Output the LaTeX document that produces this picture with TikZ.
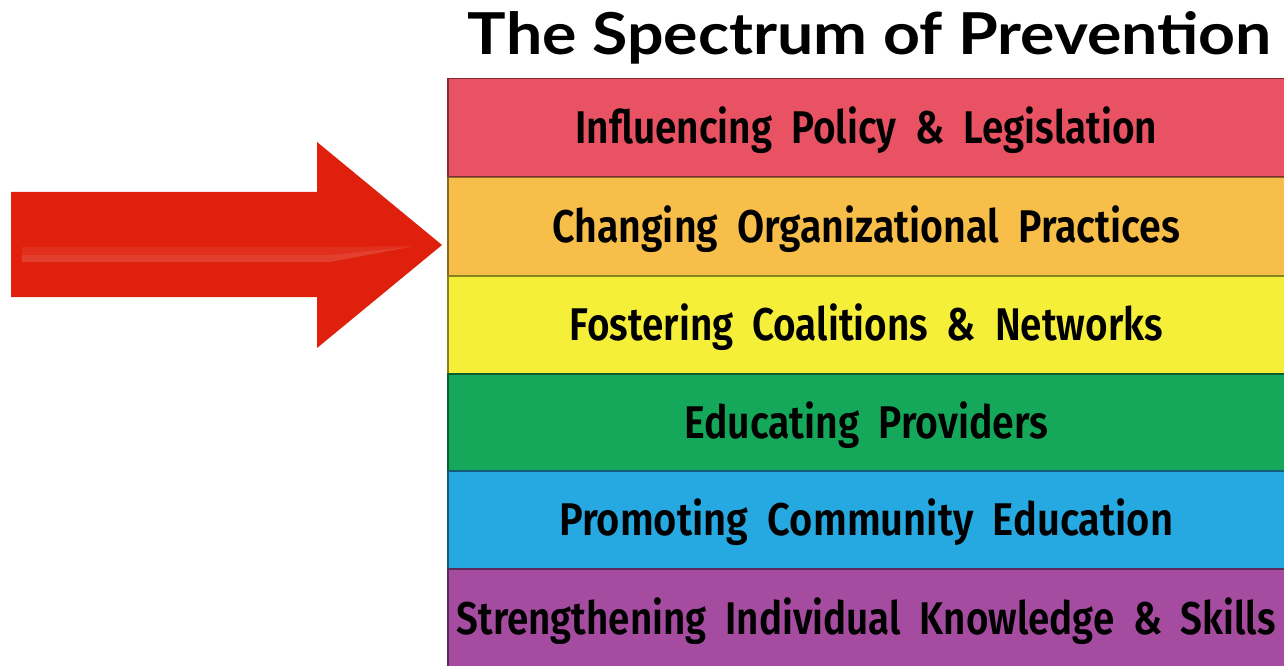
\documentclass[tikz,border=0pt]{standalone}
\usepackage{fontspec}
\usepackage{graphicx}
\setmainfont{Fira Sans}
\newfontfamily\titlefont{Lato}
\newfontfamily\bandfont{Fira Sans SemiBold}
\definecolor{bRed}{RGB}{232,82,98}
\definecolor{bOrange}{RGB}{247,190,74}
\definecolor{bYellow}{RGB}{246,239,58}
\definecolor{bGreen}{RGB}{22,168,90}
\definecolor{bBlue}{RGB}{38,168,224}
\definecolor{bPurple}{RGB}{166,76,160}
\definecolor{arrowRed}{RGB}{222,32,12}
\newcommand\bandtxt[2]{\resizebox{#1bp}{\height}{\bandfont #2}}
\begin{document}
\begin{tikzpicture}[x=1bp,y=-1bp,
  band/.style={draw=#1!55!black, line width=1.5bp, fill=#1,
    minimum width=837bp, minimum height=98bp, inner sep=0pt,
    text height=32bp, text depth=0pt, anchor=north west,
    font=\fontsize{46}{46}\selectfont, text=black},
  titlestyle/.style={anchor=base, inner sep=0pt,
    font=\titlefont\bfseries\fontsize{58}{58}\selectfont}]
\useasboundingbox (0,0) rectangle (1284,666);
\fill[white] (0,0) rectangle (1284,666);

% title
\node[titlestyle] (title) at (870,55) {\resizebox{804bp}{\height}{The Spectrum of Prevention}};

% bands
\node[band=bRed]    (b1) at (447,78)  {\bandtxt{582}{Influencing\ \ Policy\ \ \&\ \ Legislation}};
\node[band=bOrange] (b2) at (447,177) {\bandtxt{628}{Changing\ \ Organizational\ \ Practices}};
\node[band=bYellow] (b3) at (447,275) {\bandtxt{593}{Fostering\ \ Coalitions\ \ \&\ \ Networks}};
\node[band=bGreen]  (b4) at (447,373) {\bandtxt{364}{Educating\ \ Providers}};
\node[band=bBlue]   (b5) at (447,470) {\bandtxt{614}{Promoting\ \ Community\ \ Education}};
\node[band=bPurple, minimum height=99bp] (b6) at (447,568) {\bandtxt{819}{Strengthening\ \ Individual\ \ Knowledge\ \ \&\ \ Skills}};

% arrow
\coordinate (tip) at (442,245);
\fill[arrowRed] (11,192) -- (317,192) -- (317,142) -- (tip) -- (317,348) -- (317,297) -- (11,297) -- cycle;
\fill[white, opacity=0.07] (22,247) -- (330,247) -- (415,246) -- (330,262) -- (22,262) -- cycle;
\fill[white, opacity=0.08] (22,255) -- (330,255) -- (410,247) -- (330,262) -- (22,262) -- cycle;
\end{tikzpicture}
\end{document}
